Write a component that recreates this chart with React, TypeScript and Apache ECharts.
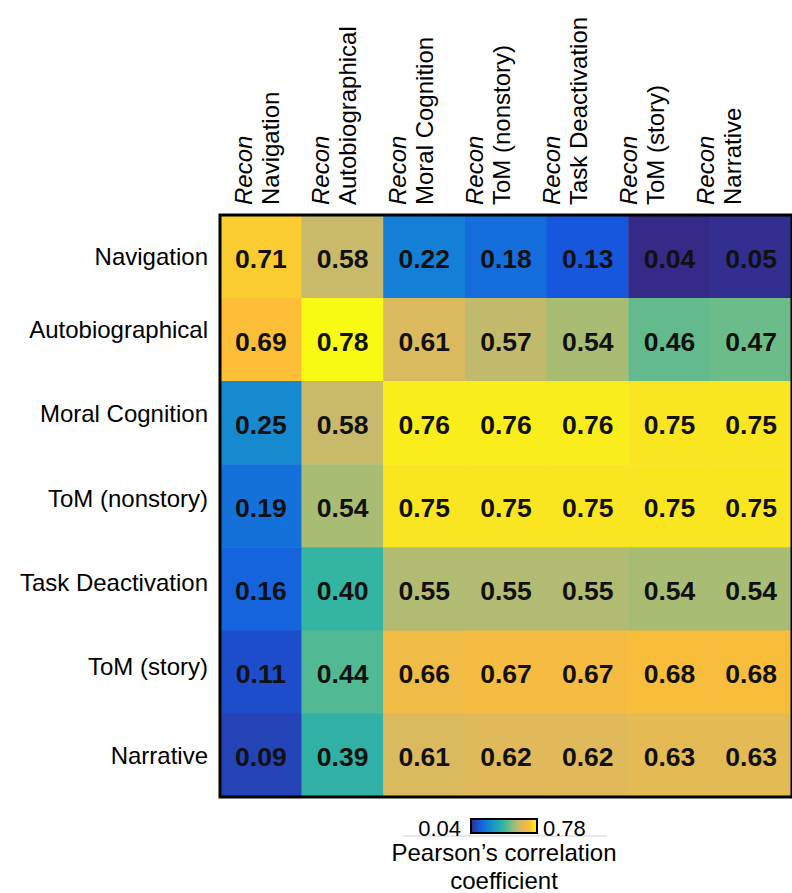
import React, { useEffect, useRef } from 'react';
import * as echarts from 'echarts';

const rowLabels = ['Navigation', 'Autobiographical', 'Moral Cognition', 'ToM (nonstory)', 'Task Deactivation', 'ToM (story)', 'Narrative'];
const colPrefix = 'Recon';
const colNames = ['Navigation', 'Autobiographical', 'Moral Cognition', 'ToM (nonstory)', 'Task Deactivation', 'ToM (story)', 'Narrative'];

const rowNavigation = [0.71, 0.58, 0.22, 0.18, 0.13, 0.04, 0.05];
const rowAutobiographical = [0.69, 0.78, 0.61, 0.57, 0.54, 0.46, 0.47];
const rowMoral = [0.25, 0.58, 0.76, 0.76, 0.76, 0.75, 0.75];
const rowTomNonstory = [0.19, 0.54, 0.75, 0.75, 0.75, 0.75, 0.75];
const rowTaskDeact = [0.16, 0.40, 0.55, 0.55, 0.55, 0.54, 0.54];
const rowTomStory = [0.11, 0.44, 0.66, 0.67, 0.67, 0.68, 0.68];
const rowNarrative = [0.09, 0.39, 0.61, 0.62, 0.62, 0.63, 0.63];
const values = [rowNavigation, rowAutobiographical, rowMoral, rowTomNonstory, rowTaskDeact, rowTomStory, rowNarrative];

const colorMin = 0.04;
const colorMax = 0.78;
const colorbarTexts = ['0.04', '0.78'];
const colorbarTitle = 'Pearson\u2019s correlation\ncoefficient';

const colorStops = ['#352A87', '#1558E0', '#1481D5', '#1F9DBD', '#36B79F', '#8ABF7E', '#D5B866', '#FCBD38', '#F9FA14'];

const FONT = '"Liberation Sans", Arial, Helvetica, sans-serif';
const ROW_LIFT = [0, 10, 9, 8, 7, 6, 0];

export default function App() {
  const ref = useRef<HTMLDivElement>(null);
  useEffect(() => {
    if (!ref.current) return;
    const chart = echarts.init(ref.current, null, { renderer: 'svg' });
    const data: any[] = [];
    values.forEach((row, r) => row.forEach((v, c) => data.push([c, r, v])));
    const rich: any = {};
    ROW_LIFT.forEach((l, i) => {
      rich['r' + i] = { fontSize: 24, fontFamily: FONT, color: '#000', padding: [0, 0, l * 2, 0] };
    });
    chart.setOption({
      animation: false,
      backgroundColor: '#fff',
      grid: [
        { left: 220, top: 215, width: 584, height: 582, show: true, borderColor: '#000', borderWidth: 3, backgroundColor: 'transparent', z: 3 },
        { left: 219, top: 215, width: 538, height: 582, show: false },
      ],
      xAxis: [
        { type: 'category', data: colNames, gridIndex: 0, position: 'top', axisLine: { show: false }, axisTick: { show: false }, axisLabel: { show: false }, splitLine: { show: false } },
        {
          type: 'category', data: colNames, gridIndex: 1, position: 'top',
          axisLine: { show: false }, axisTick: { show: false }, splitLine: { show: false },
          axisLabel: {
            rotate: -90, margin: 10, interval: 0,
            formatter: (v: string) => `{i|${colPrefix}}\n{n|${v}}`,
            rich: {
              i: { fontStyle: 'italic', fontSize: 24, fontFamily: FONT, color: '#000', lineHeight: 27 },
              n: { fontSize: 24, fontFamily: FONT, color: '#000', lineHeight: 27 },
            },
          },
        },
      ],
      yAxis: [
        {
          type: 'category', data: rowLabels, inverse: true, gridIndex: 0,
          axisLine: { show: false }, axisTick: { show: false }, splitLine: { show: false },
          axisLabel: {
            margin: 12, interval: 0,
            formatter: (v: string, i: number) => `{r${i}|${v}}`,
            rich,
          },
        },
        { type: 'category', data: rowLabels, gridIndex: 1, show: false },
      ],
      visualMap: {
        type: 'continuous', min: colorMin, max: colorMax, seriesIndex: 0,
        inRange: { color: colorStops },
        orient: 'horizontal', left: 471, top: 819, padding: 0,
        itemWidth: 14, itemHeight: 66, text: null, showLabel: false,
        calculable: false, hoverLink: false,
        textStyle: { fontSize: 21, fontFamily: FONT, color: '#000' },
      },
      graphic: [
        { type: 'rect', z: 100, shape: { x: 471, y: 819, width: 66, height: 14 }, style: { fill: 'none', stroke: '#000', lineWidth: 2 } },
        { type: 'line', z: 100, shape: { x1: 403, y1: 836, x2: 607, y2: 836 }, style: { stroke: '#d0d0d0', lineWidth: 1 } },
        { type: 'text', z: 100, x: 461, y: 828, style: { text: colorbarTexts[0], align: 'right', verticalAlign: 'middle', fontSize: 22, fontFamily: FONT, fill: '#000' } },
        { type: 'text', z: 100, x: 543, y: 828, style: { text: colorbarTexts[1], align: 'left', verticalAlign: 'middle', fontSize: 22, fontFamily: FONT, fill: '#000' } },
        { type: 'text', z: 100, x: 504, y: 866, style: { text: colorbarTitle, align: 'center', verticalAlign: 'middle', fontSize: 24, fontFamily: FONT, lineHeight: 28, fill: '#000' } },
      ],
      series: [
        {
          type: 'heatmap', xAxisIndex: 0, yAxisIndex: 0, data,
          label: {
            show: true, fontSize: 26.5, fontWeight: 'bold', fontFamily: FONT, color: '#111', offset: [0, 2],
            formatter: (p: any) => p.value[2].toFixed(2),
          },
          emphasis: { disabled: true },
        },
      ],
    });
    return () => chart.dispose();
  }, []);
  return <div ref={ref} style={{ position: 'absolute', left: 0, top: 0, width: 792, height: 893 }} />;
}
